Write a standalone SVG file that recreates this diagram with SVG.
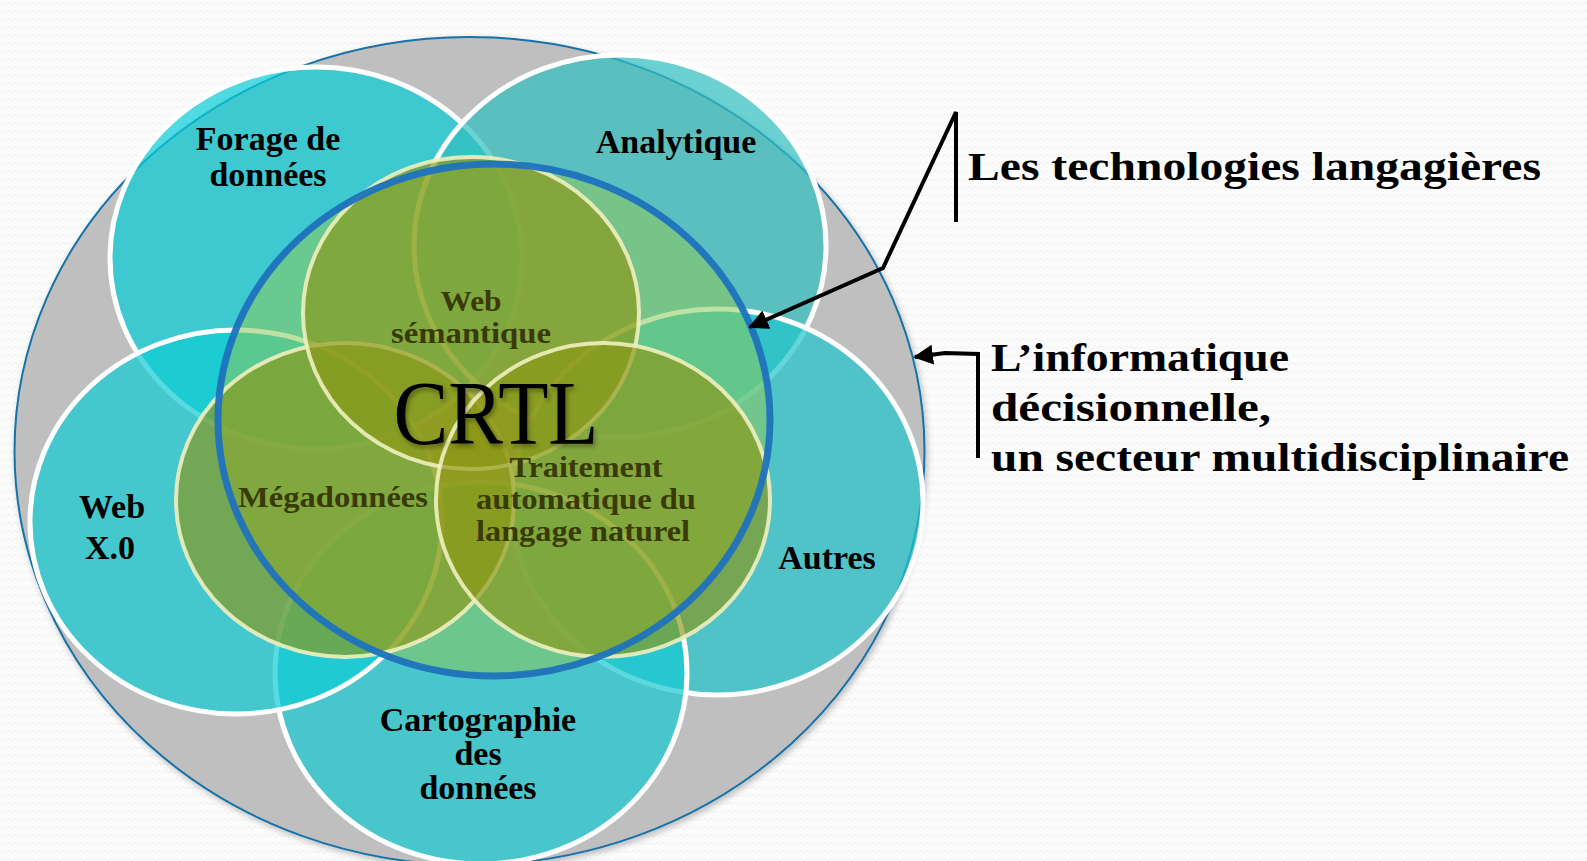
<svg xmlns="http://www.w3.org/2000/svg" width="1587" height="861" viewBox="0 0 1587 861">
<defs>
<style>
.teal{fill-opacity:0.7;stroke:#ffffff;stroke-width:5}
.green{fill:#8c9614;fill-opacity:0.65;stroke:#efefbf;stroke-width:4;stroke-opacity:0.9}
.lbl{font-family:"Liberation Serif","Times New Roman",serif;font-weight:bold;font-size:34px;fill:#000000;text-anchor:middle}
.glbl{font-family:"Liberation Serif","Times New Roman",serif;font-weight:bold;font-size:29px;fill:#3a3a06;text-anchor:middle}
.side{font-family:"Liberation Serif","Times New Roman",serif;font-weight:bold;font-size:41px;fill:#000000}
.conn{fill:none;stroke:#000000;stroke-width:4;stroke-linejoin:miter}
</style>
<pattern id="bg" width="12" height="8" patternUnits="userSpaceOnUse">
<rect width="12" height="8" fill="#fcfcfc"/>
<path d="M0,5 L3,2 L6,5 L9,2 L12,5" fill="none" stroke="#f0f0f0" stroke-width="1"/>
</pattern>
<marker id="ah" viewBox="0 0 10 10" refX="9" refY="5" markerWidth="5" markerHeight="5" orient="auto" markerUnits="strokeWidth">
<path d="M0,0 L10,5 L0,10 z" fill="#000000"/>
</marker>
<filter id="sh" x="-10%" y="-10%" width="120%" height="120%">
<feDropShadow dx="2" dy="3" stdDeviation="3" flood-color="#000000" flood-opacity="0.25"/>
</filter>
<filter id="tsh" x="-10%" y="-10%" width="120%" height="130%">
<feDropShadow dx="2" dy="3" stdDeviation="2" flood-color="#000000" flood-opacity="0.35"/>
</filter>
</defs>
<rect width="1587" height="861" fill="url(#bg)"/>
<g id="outer">
<ellipse cx="469.5" cy="451" rx="455" ry="414" fill="#bfbfbf" stroke="#1672a8" stroke-width="2" filter="url(#sh)"/>
</g>
<g id="forage">
<ellipse class="teal" cx="316" cy="258" rx="206" ry="191" fill="#07cdd7"/>
</g>
<g id="analytique">
<ellipse class="teal" cx="620" cy="246" rx="206" ry="191" fill="#30bfc1"/>
</g>
<g id="autres">
<ellipse class="teal" cx="717" cy="502" rx="206" ry="193" fill="#20c5cc"/>
</g>
<g id="cartographie">
<ellipse class="teal" cx="481" cy="673" rx="206" ry="191" fill="#15c9d2"/>
</g>
<g id="webxo">
<ellipse class="teal" cx="236" cy="522" rx="206" ry="192" fill="#0fccd4"/>
</g>
<g id="crtl-fill">
<ellipse cx="495.5" cy="422" rx="277.5" ry="257" fill="#8cc85a" fill-opacity="0.55"/>
</g>
<g id="megadonnees">
<ellipse class="green" cx="345" cy="500" rx="169" ry="157"/>
</g>
<g id="websemantique">
<ellipse class="green" cx="471" cy="313" rx="168" ry="156"/>
</g>
<g id="tal">
<ellipse class="green" cx="603" cy="500" rx="167" ry="157"/>
</g>
<g id="crtl">
<ellipse cx="494" cy="420" rx="276" ry="256" fill="none" stroke="#1e72be" stroke-width="7" stroke-opacity="0.95"/>
</g>
<g id="labels">
<text class="lbl" x="268" y="150">Forage de</text>
<text class="lbl" x="268" y="186">données</text>
<text class="lbl" x="676" y="153">Analytique</text>
<text class="lbl" x="112" y="518">Web</text>
<text class="lbl" x="110" y="559">X.0</text>
<text class="lbl" x="827" y="569">Autres</text>
<text class="lbl" x="478" y="731">Cartographie</text>
<text class="lbl" x="478" y="765">des</text>
<text class="lbl" x="478" y="799">données</text>
<text class="glbl" x="471" y="311" textLength="61" lengthAdjust="spacingAndGlyphs">Web</text>
<text class="glbl" x="471" y="343" textLength="160" lengthAdjust="spacingAndGlyphs">sémantique</text>
<text class="glbl" x="333" y="507" textLength="190" lengthAdjust="spacingAndGlyphs">Mégadonnées</text>
<text class="glbl" x="586" y="477" textLength="153" lengthAdjust="spacingAndGlyphs">Traitement</text>
<text class="glbl" x="586" y="509" textLength="220" lengthAdjust="spacingAndGlyphs">automatique du</text>
<text class="glbl" x="583" y="541" textLength="214" lengthAdjust="spacingAndGlyphs">langage naturel</text>
<text x="496" y="444" font-family="Liberation Serif, Times New Roman, serif" font-size="90" fill="#000000" text-anchor="middle" textLength="205" lengthAdjust="spacingAndGlyphs" filter="url(#tsh)">CRTL</text>
</g>
<g id="connectors">
<path class="conn" d="M956,222 L956,112 L883,268 L750,327" marker-end="url(#ah)"/>
<path class="conn" d="M978,458 L978,354 L945,353 L915,357" marker-end="url(#ah)"/>
</g>
<g id="side-labels">
<text class="side" x="968" y="180" textLength="573" lengthAdjust="spacingAndGlyphs">Les technologies langagières</text>
<text class="side" x="991" y="371" textLength="298" lengthAdjust="spacingAndGlyphs">L’informatique</text>
<text class="side" x="991" y="421" textLength="280" lengthAdjust="spacingAndGlyphs">décisionnelle,</text>
<text class="side" x="991" y="471" textLength="578" lengthAdjust="spacingAndGlyphs">un secteur multidisciplinaire</text>
</g>
</svg>
